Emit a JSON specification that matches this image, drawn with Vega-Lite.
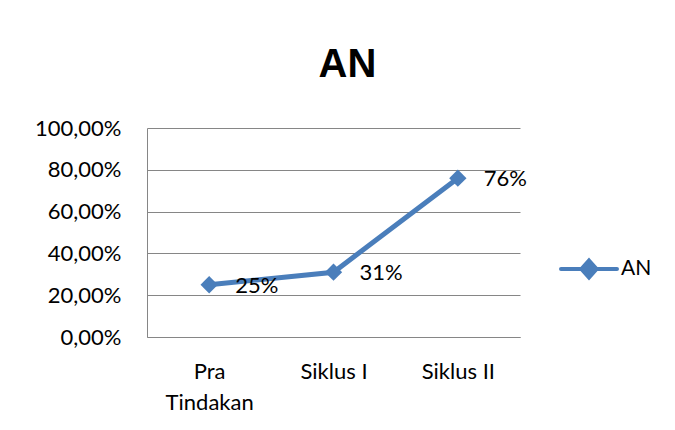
{
  "$schema": "https://vega.github.io/schema/vega-lite/v6.json",
  "width": 373,
  "height": 209,
  "autosize": {"type": "none"},
  "padding": {"left": 147, "top": 128, "right": 155, "bottom": 93},
  "background": "white",
  "config": {
    "locale": {"number": {"decimal": ",", "thousands": ".", "grouping": [3], "currency": ["", " €"]}},
    "view": {"stroke": null},
    "font": "Lato"
  },
  "title": {"text": "AN", "font": "Liberation Sans", "fontSize": 40, "fontWeight": "bold", "color": "black", "anchor": "middle", "dx": 14, "offset": 32},
  "data": {"values": [
    {"tahap": "Pra Tindakan", "nilai": 0.25, "seri": "AN"},
    {"tahap": "Siklus I", "nilai": 0.31, "seri": "AN"},
    {"tahap": "Siklus II", "nilai": 0.76, "seri": "AN"}
  ]},
  "encoding": {
    "x": {"field": "tahap", "type": "nominal", "sort": null, "scale": {"type": "point", "padding": 0.5},
      "axis": {"title": null, "labelAngle": 0, "ticks": false, "grid": false, "domainColor": "#868686", "domainWidth": 1,
        "labelFont": "Lato", "labelFontSize": 22, "labelColor": "black", "labelPadding": 24, "labelLineHeight": 31,
        "labelBaseline": "top",
        "labelExpr": "datum.value == 'Pra Tindakan' ? ['Pra', 'Tindakan'] : datum.value"}},
    "y": {"field": "nilai", "type": "quantitative", "scale": {"domain": [0, 1]},
      "axis": {"title": null, "values": [0, 0.2, 0.4, 0.6, 0.8, 1], "format": ".2%", "ticks": false, "grid": true,
        "gridColor": "#868686", "gridWidth": 1, "domainColor": "#868686", "domainWidth": 1,
        "labelFont": "Lato", "labelFontSize": 22, "labelColor": "black", "labelPadding": 26}}
  },
  "layer": [
    {"mark": {"type": "line", "strokeWidth": 5, "strokeCap": "round"},
      "encoding": {"color": {"field": "seri", "type": "nominal", "scale": {"range": ["#4a7ebb"]},
        "legend": {"orient": "none", "legendX": 412, "legendY": 111, "title": null, "padding": 0,
          "symbolType": "M-1,0L1,0M0,-0.3L0.27,0L0,0.3L-0.27,0Z", "symbolSize": 3136,
          "labelFont": "Lato", "labelFontSize": 21, "labelColor": "black", "labelOffset": 2,
          "encode": {"symbols": {"update": {"fill": {"value": "#4a7ebb"}, "stroke": {"value": "#4a7ebb"}, "strokeWidth": {"value": 4}, "strokeCap": {"value": "round"}, "opacity": {"value": 1}}}}}}}},
    {"mark": {"type": "point", "shape": "diamond", "filled": true, "size": 300, "color": "#4a7ebb", "opacity": 1}},
    {"mark": {"type": "text", "align": "left", "baseline": "middle", "dx": 26, "dy": 1, "fontSize": 22, "font": "Lato", "color": "black"},
      "encoding": {"text": {"field": "nilai", "type": "quantitative", "format": ".0%"}}}
  ]
}
